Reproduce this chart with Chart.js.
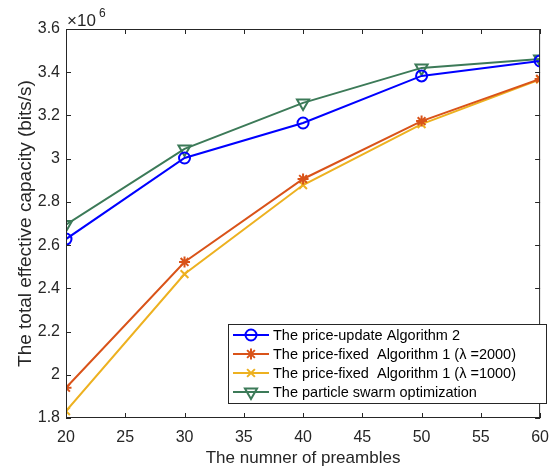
<!DOCTYPE html>
<html>
<head>
<meta charset="utf-8">
<script src="https://cdn.jsdelivr.net/npm/chart.js@4/dist/chart.umd.min.js"></script>
<style>
  html, body { margin: 0; padding: 0; background: #fff; }
  #wrap { width: 559px; height: 467px; }
</style>
</head>
<body>
<div id="wrap"><canvas id="c" width="559" height="467"></canvas></div>
<script>
// number of preambles on the x axis
const preambles = [20, 30, 40, 50, 60];

// total effective capacity, in units of 10^6 bits/s
const priceUpdateAlg2 = [2.628, 3.003, 3.165, 3.383, 3.452];
const priceFixed2000 = [1.940, 2.522, 2.906, 3.174, 3.369];
const priceFixed1000 = [1.832, 2.466, 2.878, 3.160, 3.367];
const particleSwarm = [2.695, 3.045, 3.258, 3.420, 3.461];

const seriesNames = [
    'The price-update Algorithm 2',
    'The price-fixed  Algorithm 1 (\u03bb =2000)',
    'The price-fixed  Algorithm 1 (\u03bb =1000)',
    'The particle swarm optimization'
];

const FONT = '"Liberation Sans", Arial, Helvetica, sans-serif';

function toPoints(vals) {
    return vals.map((v, i) => ({ x: preambles[i], y: v }));
}

function makeSet(label, vals, color, style, rot, r) {
    return {
        label: label,
        data: toPoints(vals),
        borderColor: color,
        backgroundColor: 'rgba(0,0,0,0)',
        borderWidth: 2,
        pointStyle: style,
        pointRotation: rot || 0,
        pointRadius: r || 5.5,
        pointBorderWidth: 2,
        pointBorderColor: color,
        pointBackgroundColor: 'rgba(0,0,0,0)',
        tension: 0
    };
}

// box, inward ticks, exponent label and legend, drawn MATLAB-style
const matlabFrame = {
    id: 'matlabFrame',
    afterDraw(chart) {
        const ctx = chart.ctx;
        const a = chart.chartArea;
        const xs = chart.scales.x, ys = chart.scales.y;
        ctx.save();
        ctx.strokeStyle = '#262626';
        ctx.lineWidth = 1;
        ctx.strokeRect(a.left + 0.5, a.top + 0.5, a.right - a.left - 1, a.bottom - a.top - 1);
        ctx.beginPath();
        xs.ticks.forEach(t => {
            const px = Math.round(xs.getPixelForValue(t.value)) + 0.5;
            ctx.moveTo(px, a.bottom); ctx.lineTo(px, a.bottom - 5);
            ctx.moveTo(px, a.top); ctx.lineTo(px, a.top + 5);
        });
        ys.ticks.forEach(t => {
            const py = Math.round(ys.getPixelForValue(t.value)) + 0.5;
            ctx.moveTo(a.left, py); ctx.lineTo(a.left + 5, py);
            ctx.moveTo(a.right, py); ctx.lineTo(a.right - 5, py);
        });
        ctx.stroke();

        // exponent
        ctx.fillStyle = '#262626';
        ctx.textBaseline = 'alphabetic';
        ctx.textAlign = 'left';
        ctx.font = '17px ' + FONT;
        ctx.fillText('\u00d710', a.left + 1, a.top - 3);
        ctx.font = '12px ' + FONT;
        ctx.fillText('6', a.left + 33, a.top - 12);

        // legend
        const lx = 228, ly = 324, lw = 318, lh = 79;
        ctx.fillStyle = '#fff';
        ctx.fillRect(lx, ly, lw, lh);
        ctx.strokeStyle = '#262626';
        ctx.lineWidth = 1;
        ctx.strokeRect(lx + 0.5, ly + 0.5, lw, lh);
        chart.data.datasets.forEach((ds, i) => {
            const cy = ly + 11 + i * 19;
            ctx.strokeStyle = ds.borderColor;
            ctx.fillStyle = 'rgba(0,0,0,0)';
            ctx.lineWidth = 2;
            ctx.beginPath();
            ctx.moveTo(lx + 5, cy); ctx.lineTo(lx + 41, cy);
            ctx.stroke();
            Chart.helpers.drawPoint(ctx, {
                pointStyle: ds.pointStyle,
                rotation: ds.pointRotation,
                radius: ds.pointRadius,
                borderWidth: 2
            }, lx + 23, cy);
            ctx.fillStyle = '#000';
            ctx.font = '14.5px ' + FONT;
            ctx.textBaseline = 'middle';
            ctx.fillText(ds.label, lx + 45, cy + 1);
        });
        ctx.restore();
    }
};

new Chart(document.getElementById('c'), {
    type: 'line',
    data: {
        datasets: [
            makeSet(seriesNames[0], priceUpdateAlg2, '#0000ff', 'circle'),
            makeSet(seriesNames[1], priceFixed2000, '#d95319', 'star'),
            makeSet(seriesNames[2], priceFixed1000, '#edb120', 'crossRot'),
            makeSet(seriesNames[3], particleSwarm, '#3c7a58', 'triangle', 180, 7)
        ]
    },
    options: {
        responsive: false,
        animation: false,
        devicePixelRatio: 1,
        layout: { padding: { top: 29, right: 18, left: 0, bottom: 0 } },
        plugins: { legend: { display: false }, tooltip: { enabled: false } },
        scales: {
            x: {
                type: 'linear',
                min: 20, max: 60,
                grid: { display: false, drawTicks: false },
                border: { display: false },
                ticks: { stepSize: 5, padding: 10, color: '#262626', font: { family: FONT, size: 16 } },
                title: { display: true, text: 'The numner of preambles', color: '#262626',
                         font: { family: FONT, size: 17 }, padding: { top: 0, bottom: -2 } },
                afterFit(s) { s.height = 49; }
            },
            y: {
                min: 1.8, max: 3.6,
                grid: { display: false, drawTicks: false },
                border: { display: false },
                ticks: {
                    stepSize: 0.2, padding: 6, color: '#262626',
                    font: { family: FONT, size: 16 },
                    callback: v => String(+v.toFixed(1))
                },
                title: { display: true, text: 'The total effective capacity (bits/s)', color: '#262626',
                         font: { family: FONT, size: 19 }, padding: { top: 14, bottom: 0 } },
                afterFit(s) { s.width = 66; }
            }
        }
    },
    plugins: [matlabFrame]
});
</script>
</body>
</html>
